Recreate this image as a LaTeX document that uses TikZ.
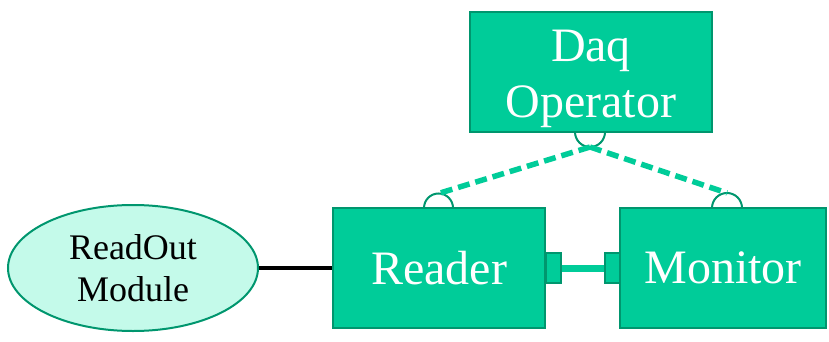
\documentclass[tikz,border=0pt]{standalone}
\usepackage{fontspec}
\setmainfont{Liberation Serif}
\usetikzlibrary{shapes.geometric}
\definecolor{boxfill}{RGB}{0,204,153}
\definecolor{boxline}{RGB}{0,150,110}
\definecolor{ellfill}{RGB}{196,250,234}
\tikzset{
  box/.style={draw=boxline, fill=boxfill, line width=2pt, text=white, align=center,
    font=\fontsize{48}{56}\selectfont, inner sep=0pt},
  ell/.style={ellipse, draw=boxline, fill=ellfill, line width=2pt, align=center,
    font=\fontsize{36}{42}\selectfont, inner sep=0pt},
  port/.style={draw=boxline, fill=boxfill, line width=2pt, minimum width=15pt, minimum height=30pt, inner sep=0pt},
  sock/.style={draw=boxline, line width=2pt},
  dashline/.style={draw=boxfill, line width=5.5pt, dash pattern=on 12pt off 6pt},
}
\begin{document}
\begin{tikzpicture}[x=1pt,y=-1pt]
\useasboundingbox (0,0) rectangle (829,342);
\node[box, minimum width=242pt, minimum height=120pt] (daq) at (591,72)
  {\raisebox{10pt}[0pt][0pt]{\begin{tabular}[t]{@{}c@{}}Daq\\Operator\end{tabular}}};
\node[box, minimum width=212pt, minimum height=120pt] (reader) at (439,268) {Reader};
\node[box, minimum width=206pt, minimum height=120pt] (monitor) at (723,268) {Monitor};
\node[ell, minimum width=250pt, minimum height=126pt] (rom) at (133,268) {ReadOut\\Module};
\draw[line width=4.5pt] (rom.east) -- (reader.west);
\node[port] (p1) at (553,268) {};
\node[port] (p2) at (612,268) {};
\draw[boxfill, line width=7pt] (p1.east) -- (p2.west);
% sockets
\draw[sock] (575,132) arc[start angle=180, end angle=360, radius=15pt];
\draw[sock] (424,208) arc[start angle=180, end angle=0, radius=14.5pt];
\draw[sock] (712,208) arc[start angle=180, end angle=0, radius=15pt];
\coordinate (dq) at (590,147);
\coordinate (rd) at (438.5,193.5);
\coordinate (mn) at (727,193);
\draw[dashline] (dq) -- (rd);
\draw[dashline] (dq) -- (mn);
\end{tikzpicture}
\end{document}
